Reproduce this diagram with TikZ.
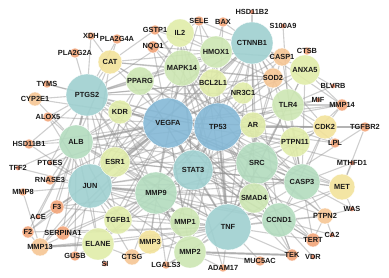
\documentclass[tikz,border=0pt]{standalone}
\usepackage{fontspec}
\setmainfont{Liberation Sans}
\usetikzlibrary{positioning, backgrounds}
\definecolor{cblue}{HTML}{84B8D6}
\definecolor{cteal}{HTML}{9ECFCF}
\definecolor{cgreen}{HTML}{B2DBBE}
\definecolor{clgreen}{HTML}{CCE6B2}
\definecolor{cyg}{HTML}{E0ECA9}
\definecolor{cyellow}{HTML}{F2E29A}
\definecolor{cpeach}{HTML}{F5C594}
\definecolor{corange}{HTML}{F2A478}
\definecolor{cred}{HTML}{E8825E}
\tikzset{
    gene/.style={circle, draw=white, line width=0.3pt, inner sep=0pt, fill opacity=0.9},
    lbl/.style={font=\fontsize{7.4}{8}\selectfont\bfseries, text=black!90, inner sep=0pt},
    link/.style={draw=gray!85, line width=1.1pt, draw opacity=0.45},
    biglink/.style={draw=gray!85, line width=2.2pt, draw opacity=0.55}
}
\begin{document}
\begin{tikzpicture}[x=1pt, y=-1pt]
  \useasboundingbox (0,0) rectangle (389,278);
  % large hubs
  \node[gene, fill=cblue, minimum size=50pt, label={[lbl]center:VEGFA}] (VEGFA) at (168,123) {};
  \node[gene, fill=cblue, minimum size=48pt, label={[lbl]center:TP53}] (TP53) at (218,127) {};
  \node[gene, fill=cteal, minimum size=40pt, label={[lbl]center:STAT3}] (STAT3) at (193,170) {};
  \node[gene, fill=cteal, minimum size=46pt, label={[lbl]center:TNF}] (TNF) at (228,227) {};
  \node[gene, fill=cteal, minimum size=44pt, label={[lbl]center:JUN}] (JUN) at (90,186) {};
  \node[gene, fill=cteal, minimum size=42pt, label={[lbl]center:PTGS2}] (PTGS2) at (87,95) {};
  \node[gene, fill=cteal, minimum size=42pt, label={[lbl]center:CTNNB1}] (CTNNB1) at (252,43) {};
  \node[gene, fill=cgreen, minimum size=42pt, label={[lbl]center:MMP9}] (MMP9) at (156,193) {};
  \node[gene, fill=cgreen, minimum size=42pt, label={[lbl]center:SRC}] (SRC) at (257,163) {};
  \node[gene, fill=cgreen, minimum size=34pt, label={[lbl]center:ALB}] (ALB) at (76,142) {};
  \node[gene, fill=cgreen, minimum size=36pt, label={[lbl]center:CASP3}] (CASP3) at (302,182) {};
  \node[gene, fill=cgreen, minimum size=34pt, label={[lbl]center:CCND1}] (CCND1) at (279,220) {};
  % medium nodes
  \node[gene, fill=clgreen, minimum size=36pt, label={[lbl]center:MAPK14}] (MAPK14) at (182,68) {};
  \node[gene, fill=clgreen, minimum size=32pt, label={[lbl]center:HMOX1}] (HMOX1) at (216,52) {};
  \node[gene, fill=clgreen, minimum size=32pt, label={[lbl]center:TLR4}] (TLR4) at (288,105) {};
  \node[gene, fill=clgreen, minimum size=30pt, label={[lbl]center:SMAD4}] (SMAD4) at (254,198) {};
  \node[gene, fill=clgreen, minimum size=30pt, label={[lbl]center:MMP1}] (MMP1) at (185,222) {};
  \node[gene, fill=clgreen, minimum size=32pt, label={[lbl]center:MMP2}] (MMP2) at (190,252) {};
  \node[gene, fill=clgreen, minimum size=28pt, label={[lbl]center:PPARG}] (PPARG) at (140,81) {};
  \node[gene, fill=cyg, minimum size=30pt, label={[lbl]center:ESR1}] (ESR1) at (115,162) {};
  \node[gene, fill=cyg, minimum size=28pt, label={[lbl]center:IL2}] (IL2) at (180,33) {};
  \node[gene, fill=cyg, minimum size=28pt, label={[lbl]center:BCL2L1}] (BCL2L1) at (213,83) {};
  \node[gene, fill=cyg, minimum size=22pt, label={[lbl]center:NR3C1}] (NR3C1) at (243,93) {};
  \node[gene, fill=cyg, minimum size=26pt, label={[lbl]center:AR}] (AR) at (253,125) {};
  \node[gene, fill=cyg, minimum size=30pt, label={[lbl]center:PTPN11}] (PTPN11) at (295,142) {};
  \node[gene, fill=cyg, minimum size=30pt, label={[lbl]center:ANXA5}] (ANXA5) at (305,70) {};
  \node[gene, fill=cyg, minimum size=28pt, label={[lbl]center:TGFB1}] (TGFB1) at (118,220) {};
  \node[gene, fill=cyg, minimum size=32pt, label={[lbl]center:ELANE}] (ELANE) at (98,244) {};
  \node[gene, fill=cyg, minimum size=24pt, label={[lbl]center:KDR}] (KDR) at (120,112) {};
  \node[gene, fill=cyellow, minimum size=26pt, label={[lbl]center:MET}] (MET) at (342,187) {};
  \node[gene, fill=cyellow, minimum size=24pt, label={[lbl]center:CAT}] (CAT) at (110,62) {};
  \node[gene, fill=cyellow, minimum size=24pt, label={[lbl]center:CDK2}] (CDK2) at (325,127) {};
  \node[gene, fill=cyellow, minimum size=24pt, label={[lbl]center:MMP3}] (MMP3) at (150,242) {};
  \node[gene, fill=cpeach, minimum size=20pt, label={[lbl]center:SOD2}] (SOD2) at (273,78) {};
  \node[gene, fill=cpeach, minimum size=18pt, label={[lbl]center:CASP1}] (CASP1) at (282,57) {};
  \node[gene, fill=cpeach, minimum size=18pt, label={[lbl]center:MMP13}] (MMP13) at (40,247) {};
  \node[gene, fill=cpeach, minimum size=14pt, label={[lbl]center:CYP2E1}] (CYP2E1) at (35,99) {};
  \node[gene, fill=cpeach, minimum size=16pt, label={[lbl]center:PTPN2}] (PTPN2) at (325,216) {};
  \node[gene, fill=cpeach, minimum size=16pt, label={[lbl]center:CTSG}] (CTSG) at (132,257) {};
  % small nodes
  \foreach \g/\x/\y/\s in {PLA2G4A/117/39/10, PLA2G2A/75/53/10, XDH/91/36/8, GSTP1/155/30/10,
      NQO1/153/47/12, SELE/199/21/10, BAX/223/22/10, TYMS/47/84/8, ALOX5/48/117/10,
      HSD11B1/29/144/10, RNASE3/50/180/10, MMP8/23/192/8, F3/57/207/14, F2/28/232/12,
      SERPINA1/63/233/14, GUSB/75/256/10, LGALS3/166/265/8, ADAM17/223/268/8,
      MUC5AC/260/261/10, TEK/292/255/12, TERT/313/240/14, LPL/335/143/10,
      MMP14/342/105/12, TGFBR2/365/127/10, CTSB/307/51/8}
    \node[gene, fill=corange, minimum size=\s pt, label={[lbl]center:\g}] (\g) at (\x,\y) {};
  % tiny nodes
  \foreach \g/\x/\y in {HSD11B2/252/12, S100A9/283/26, BLVRB/333/86, MIF/318/100,
      MTHFD1/352/163, WAS/352/209, CA2/332/235, VDR/313/257, SI/105/264,
      ACE/38/217, TFF2/18/168, PTGES/50/163}
    \node[gene, fill=cred, minimum size=5pt, label={[lbl]center:\g}] (\g) at (\x,\y) {};
  % interactions
  \begin{scope}[on background layer]
    \foreach \h/\lst in {
      VEGFA/{TP53,STAT3,TNF,JUN,PTGS2,CTNNB1,MMP9,SRC,ALB,CASP3,ESR1,MAPK14,HMOX1,IL2,KDR,PPARG,CAT,AR,NR3C1,BCL2L1,TLR4,PTPN11,SMAD4,CCND1,MMP1,MMP2,MMP3,TGFB1,ELANE,F3,SOD2,CDK2,MET,MMP14,ALOX5,HSD11B1,SERPINA1,MMP13,TERT,TEK,CASP1,ANXA5,NQO1,SELE,PTGES,RNASE3},
      TP53/{STAT3,TNF,JUN,PTGS2,CTNNB1,MMP9,SRC,ALB,CASP3,ESR1,MAPK14,HMOX1,IL2,KDR,PPARG,CAT,AR,NR3C1,BCL2L1,TLR4,PTPN11,SMAD4,CCND1,MMP1,MMP2,TGFB1,SOD2,CDK2,MET,BAX,CASP1,ANXA5,TERT,PTPN2,TEK,MIF,LPL,MMP14,GSTP1,NQO1,TYMS,CYP2E1,MTHFD1,TGFBR2},
      STAT3/{TNF,JUN,PTGS2,CTNNB1,MMP9,SRC,ALB,CASP3,ESR1,MAPK14,HMOX1,IL2,KDR,PPARG,AR,BCL2L1,TLR4,PTPN11,SMAD4,CCND1,MMP1,MMP2,MMP3,TGFB1,ELANE,CDK2,MET,PTPN2,TERT,ADAM17,LGALS3},
      TNF/{JUN,PTGS2,CTNNB1,MMP9,SRC,ALB,CASP3,ESR1,MAPK14,HMOX1,IL2,PPARG,TLR4,SMAD4,CCND1,MMP1,MMP2,MMP3,TGFB1,ELANE,SOD2,CASP1,ANXA5,SELE,F3,ADAM17,MUC5AC,TEK,TERT,PTPN2,MMP13,SERPINA1,CTSG,LGALS3,F2,MET},
      JUN/{PTGS2,CTNNB1,MMP9,SRC,ALB,CASP3,ESR1,MAPK14,HMOX1,IL2,KDR,PPARG,CAT,AR,TGFB1,ELANE,MMP1,MMP2,MMP3,MMP13,F3,F2,SERPINA1,GUSB,RNASE3,MMP8,ALOX5,HSD11B1,PTGES,TFF2,ACE,CTSG,CCND1,SMAD4},
      PTGS2/{CTNNB1,MMP9,SRC,ALB,CASP3,ESR1,MAPK14,HMOX1,IL2,KDR,PPARG,CAT,PLA2G4A,PLA2G2A,XDH,TYMS,CYP2E1,ALOX5,HSD11B1,PTGES,NR3C1,BCL2L1,SOD2,MMP2,TGFB1},
      CTNNB1/{MMP9,SRC,CASP3,MAPK14,HMOX1,IL2,BCL2L1,NR3C1,AR,TLR4,SOD2,CASP1,ANXA5,CCND1,SMAD4,HSD11B2,BAX,SELE,CDK2,MMP14,ESR1,ALB},
      MMP9/{SRC,ALB,CASP3,ESR1,MAPK14,KDR,TGFB1,ELANE,MMP1,MMP2,MMP3,MMP13,CTSG,SERPINA1,F3,LGALS3,SMAD4,CCND1},
      SRC/{ALB,CASP3,ESR1,MAPK14,AR,PTPN11,TLR4,CCND1,SMAD4,MET,CDK2,PTPN2,TEK,NR3C1},
      ALB/{ESR1,KDR,CAT,F2,F3,SERPINA1,HSD11B1,CYP2E1,ALOX5,ELANE,MMP13,TGFB1,ACE,RNASE3,TFF2,PTGES,GUSB},
      CASP3/{ESR1,MAPK14,BCL2L1,TLR4,PTPN11,CCND1,CDK2,MET,SOD2,CASP1,ANXA5,TERT,PTPN2,WAS,MTHFD1},
      CCND1/{CDK2,MET,SMAD4,ESR1,TERT,PTPN2,VDR,CA2,TEK},
      MAPK14/{HMOX1,IL2,BCL2L1,PPARG,CAT,NQO1,GSTP1,TLR4,SOD2},
      HMOX1/{IL2,BCL2L1,NQO1,SELE,BAX,CAT,SOD2,CASP1,GSTP1},
      TLR4/{MIF,S100A9,BLVRB,LPL,MMP14,CDK2,ANXA5},
      ANXA5/{CTSB,BLVRB,MMP14},
      SMAD4/{TGFBR2,TGFB1},
      MET/{MTHFD1,WAS,TGFBR2},
      PTPN2/{WAS,CA2,TERT},
      MMP2/{TEK,MUC5AC,MMP14,ADAM17,LGALS3,MMP3},
      ELANE/{MMP13,SI,GUSB,CTSG,SERPINA1},
      MMP13/{F2,MMP8},
      F3/{F2,ACE},
      CAT/{XDH,SOD2,PLA2G4A,GSTP1},
      IL2/{SELE,GSTP1},
      PPARG/{LPL,CAT,KDR},
      KDR/{ESR1},
      CDK2/{TGFBR2,MMP14,LPL}}
      \foreach \t in \lst
        \draw[link] (\h) -- (\t);
    \foreach \a/\b in {VEGFA/TP53, VEGFA/STAT3, TP53/STAT3, VEGFA/JUN, TP53/TNF,
        MMP2/TEK, ELANE/MMP13, MMP9/MMP2, PTGS2/ALB, MMP9/MMP1, VEGFA/ALB, JUN/MMP9}
      \draw[biglink] (\a) -- (\b);
  \end{scope}
\end{tikzpicture}
\end{document}
